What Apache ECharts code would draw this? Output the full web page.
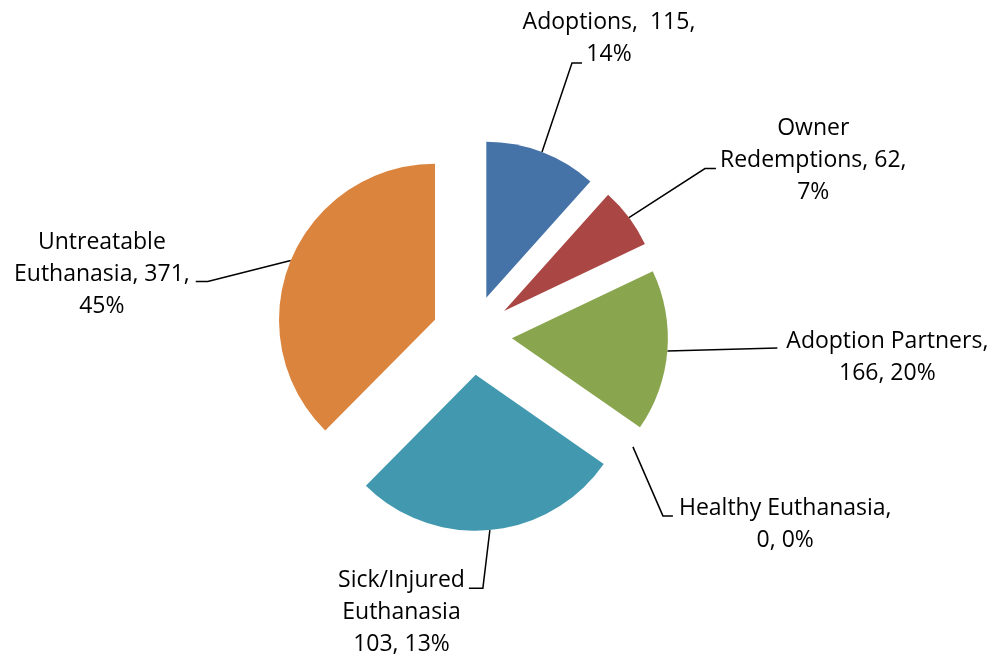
<!DOCTYPE html>
<html>
<head>
<meta charset="utf-8">
<script src="https://cdn.jsdelivr.net/npm/echarts@6/dist/echarts.min.js"></script>
<style>
  html, body { margin: 0; padding: 0; background: #fff; }
  #main { width: 996px; height: 660px; }
</style>
</head>
<body>
<div id="main"></div>
<script>
// slice names and the numbers printed in the labels
const names = ['Adoptions', 'Owner Redemptions', 'Adoption Partners', 'Healthy Euthanasia', 'Sick/Injured Euthanasia', 'Untreatable Euthanasia'];
const counts = [115, 62, 166, 0, 103, 371];
const percents = ['14%', '7%', '20%', '0%', '13%', '45%'];
// share of the circle each slice actually takes in the picture (%)
const sliceShares = [11.6, 6.3, 16.7, 0, 27.7, 37.5];
// label text, line by line as it wraps in the picture
const labelRows = [
    ['Adoptions,  115,', '14%'],
    ['Owner', 'Redemptions, 62,', '7%'],
    ['Adoption Partners,', '166, 20%'],
    ['Healthy Euthanasia,', '0, 0%'],
    ['Sick/Injured', 'Euthanasia', '103, 13%'],
    ['Untreatable', 'Euthanasia, 371,', '45%']
];
const colors = ['#4572A7', '#AA4643', '#89A54E', '#71588F', '#4198AF', '#DB843D'];

const pieCenter = [472, 335];
const pieRadius = 156;
const explode = 40;

// leader line: bend offset from the slice edge, then a short flat tail,
// label placed from the end of the tail
const guides = [
    { bend: [30, -89], tail: 10, align: 'center', dx: 27, dy: -24 },
    { bend: [76, -49], tail: 11, align: 'left', dx: 4, dy: -8 },
    { bend: [110, -3], tail: 0, align: 'left', dx: 9, dy: 9 },
    { bend: [30, 69], tail: 10, align: 'left', dx: 6, dy: 9 },
    { bend: [-7, 58], tail: -14, align: 'right', dx: -4, dy: 24 },
    { bend: [-83, 21], tail: -12, align: 'right', dx: -6, dy: -7 }
];

const textFont = { fontFamily: 'Open Sans', fontSize: 23, lineHeight: 32, color: '#000' };

const chart = echarts.init(document.getElementById('main'));

// the exploded slices
const sliceData = names.map((n, i) => ({
    name: n,
    value: sliceShares[i],
    selected: true,
    itemStyle: { color: colors[i] }
}));

// invisible ring reaching the outer edge of the exploded slices, carries the labels
const labelData = names.map((n, i) => ({
    name: n,
    value: sliceShares[i],
    label: {
        formatter: labelRows[i].map(r => '{c|' + r + '}').join('\n')
    }
}));

const option = {
    animation: false,
    series: [{
        type: 'pie',
        center: pieCenter,
        radius: pieRadius,
        startAngle: 90,
        clockwise: true,
        selectedMode: 'multiple',
        selectedOffset: explode,
        silent: true,
        emphasis: { disabled: true },
        label: { show: false },
        labelLine: { show: false },
        data: sliceData
    }, {
        type: 'pie',
        center: pieCenter,
        radius: pieRadius + explode,
        startAngle: 90,
        clockwise: true,
        silent: true,
        avoidLabelOverlap: false,
        minShowLabelAngle: 0,
        emphasis: { disabled: true },
        itemStyle: { color: 'rgba(0,0,0,0)', borderWidth: 0 },
        label: Object.assign({
            show: true,
            position: 'outside',
            rich: { c: Object.assign({ align: 'center' }, textFont) }
        }, textFont),
        labelLine: {
            show: true,
            showAbove: true,
            lineStyle: { color: '#000', width: 1.5 }
        },
        labelLayout: function (params) {
            const g = guides[params.dataIndex];
            const p0 = params.labelLinePoints[0];
            const p1 = [p0[0] + g.bend[0], p0[1] + g.bend[1]];
            const p2 = [p1[0] + g.tail, p1[1]];
            return {
                x: p2[0] + g.dx,
                y: p2[1] + g.dy,
                align: g.align,
                verticalAlign: 'middle',
                labelLinePoints: [p0, p1, p2]
            };
        },
        data: labelData
    }]
};
chart.setOption(option);
</script>
</body>
</html>
